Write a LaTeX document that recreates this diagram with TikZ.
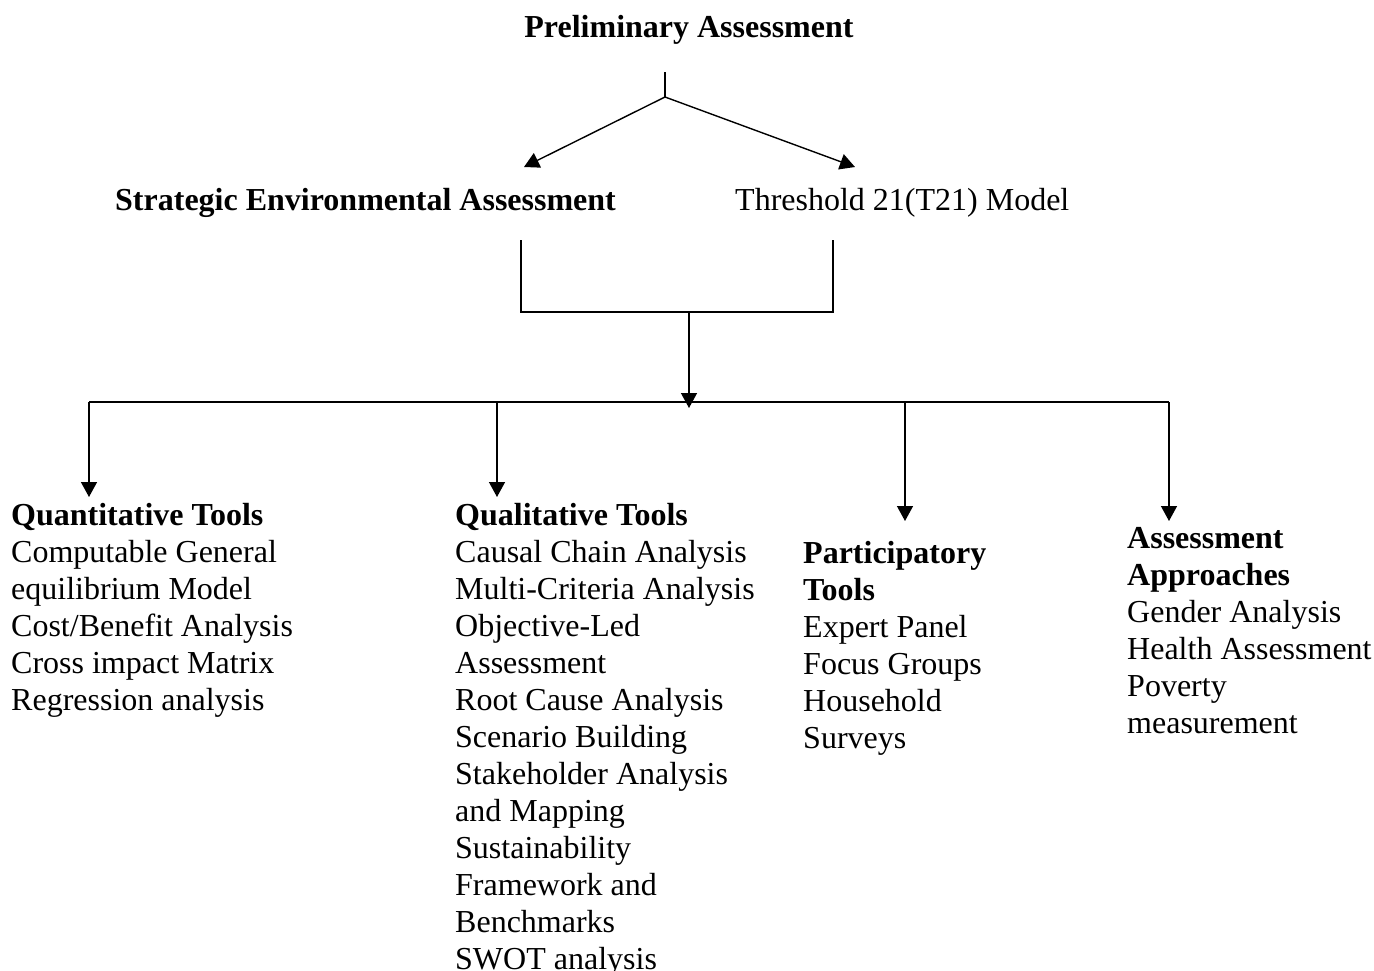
\documentclass[tikz,border=0pt]{standalone}
\usepackage{fontspec}
\setmainfont{Liberation Serif}
\usetikzlibrary{arrows.meta}
\begin{document}
\begin{tikzpicture}[x=1pt,y=-1pt,
  txt/.style={font=\fontsize{32}{37}\selectfont, inner sep=0pt, anchor=base west},
  conn/.style={line width=1.4pt, line join=miter},
  arr/.style={conn, -{Triangle[width=16pt,length=15pt]}}]
\useasboundingbox (0,0) rectangle (1374,970);
% titles
\node[txt, anchor=base] (pre) at (689,37) {\textbf{Preliminary Assessment}};
\node[txt] (sea) at (115,210) {\textbf{Strategic Environmental Assessment}};
\node[txt] (t21) at (735,210) {Threshold 21(T21) Model};
% blocks
\node[txt] (quan) at (11,525) {\begin{tabular}[t]{@{}l@{}}\textbf{Quantitative Tools}\\Computable General\\equilibrium Model\\Cost/Benefit Analysis\\Cross impact Matrix\\Regression analysis\end{tabular}};
\node[txt] (qual) at (455,525) {\begin{tabular}[t]{@{}l@{}}\textbf{Qualitative Tools}\\Causal Chain Analysis\\Multi-Criteria Analysis\\Objective-Led\\Assessment\\Root Cause Analysis\\Scenario Building\\Stakeholder Analysis\\and Mapping\\Sustainability\\Framework and\\Benchmarks\\SWOT analysis\end{tabular}};
\node[txt] (part) at (803,563) {\begin{tabular}[t]{@{}l@{}}\textbf{Participatory}\\\textbf{Tools}\\Expert Panel\\Focus Groups\\Household\\Surveys\end{tabular}};
\node[txt] (appr) at (1127,548) {\begin{tabular}[t]{@{}l@{}}\textbf{Assessment}\\\textbf{Approaches}\\Gender Analysis\\Health Assessment\\Poverty\\measurement\end{tabular}};
% junction coordinates
\coordinate (top) at (665,72);
\coordinate (apex) at (665,97);
\coordinate (seaT) at (524,167);
\coordinate (t21T) at (855,167);
\coordinate (bl) at (521,240);
\coordinate (blb) at (521,312);
\coordinate (br) at (833,240);
\coordinate (brb) at (833,312);
\coordinate (bm) at (689,312);
\coordinate (bus) at (689,408);
\coordinate (busL) at (89,402);
\coordinate (busR) at (1169,402);
\coordinate (d1) at (89,402);
\coordinate (d1t) at (89,497);
\coordinate (d2) at (497,402);
\coordinate (d2t) at (497,497);
\coordinate (d3) at (905,402);
\coordinate (d3t) at (905,521);
\coordinate (d4) at (1169,402);
\coordinate (d4t) at (1169,521);
% connectors
\draw[conn] (top) -- (apex);
\draw[arr] (apex) -- (seaT);
\draw[arr] (apex) -- (t21T);
\draw[conn] (bl) -- (blb) -- (brb) -- (br);
\draw[arr] (bm) -- (bus);
\draw[conn] (busL) -- (busR);
\draw[arr] (d1) -- (d1t);
\draw[arr] (d2) -- (d2t);
\draw[arr] (d3) -- (d3t);
\draw[arr] (d4) -- (d4t);
\end{tikzpicture}
\end{document}
